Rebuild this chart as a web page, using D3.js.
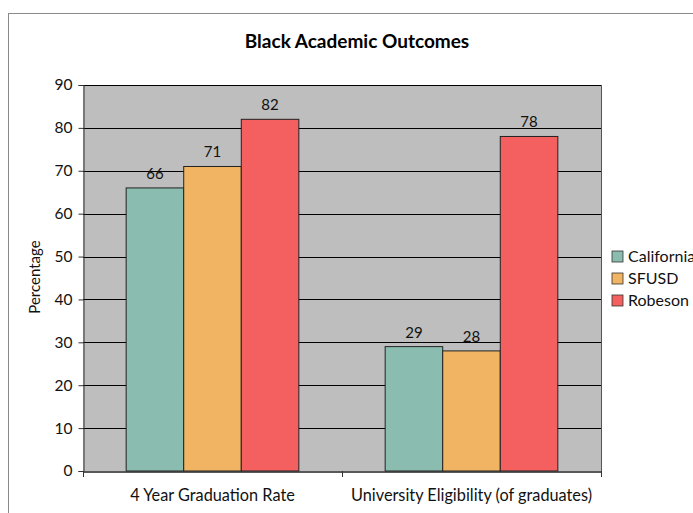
<!DOCTYPE html>
<html>
<head>
<meta charset="utf-8">
<script src="https://cdn.jsdelivr.net/npm/d3@7"></script>
<style>
  html, body { margin: 0; padding: 0; background: #fff; }
  svg { display: block; font-family: Lato, "Open Sans", sans-serif; }
</style>
</head>
<body>
<svg id="chart" width="693" height="513"></svg>
<script>
// Chart data
const categories = ["4 Year Graduation Rate", "University Eligibility (of graduates)"];
const seriesNames = ["California", "SFUSD", "Robeson"];
const california = [66, 29];
const sfusd = [71, 28];
const robeson = [82, 78];
const yTicks = [0, 10, 20, 30, 40, 50, 60, 70, 80, 90];
const seriesColors = ["#8abcb0", "#f0b462", "#f46060"];

const seriesValues = [california, sfusd, robeson];
const FONT = "Lato, 'Open Sans', sans-serif";

const svg = d3.select("#chart");

// outer frame
svg.append("rect")
  .attr("x", 8.5).attr("y", 13.5)
  .attr("width", 720).attr("height", 520)
  .attr("fill", "none").attr("stroke", "#8a8a8a").attr("stroke-width", 1);

const plot = { left: 83, right: 601, top: 85, bottom: 471 };

const x0 = d3.scaleBand().domain(categories)
  .range([plot.left, plot.right]).paddingInner(0).paddingOuter(0);
const x1 = d3.scaleBand().domain(seriesNames)
  .range([0, x0.bandwidth()]).paddingInner(0).paddingOuter(0.75);
const y = d3.scaleLinear().domain([0, 90]).range([plot.bottom, plot.top]);

// plot background
svg.append("rect")
  .attr("x", plot.left).attr("y", plot.top)
  .attr("width", plot.right - plot.left).attr("height", plot.bottom - plot.top)
  .attr("fill", "#bebebe");

// horizontal gridlines
svg.append("g").selectAll("line").data(yTicks.filter(d => d > 0)).join("line")
  .attr("x1", plot.left).attr("x2", plot.right)
  .attr("y1", d => Math.round(y(d)) + 0.5).attr("y2", d => Math.round(y(d)) + 0.5)
  .attr("stroke", "#000").attr("stroke-width", 1);

// right edge of plot area
svg.append("line")
  .attr("x1", plot.right + 0.5).attr("x2", plot.right + 0.5)
  .attr("y1", plot.top).attr("y2", plot.bottom)
  .attr("stroke", "#555").attr("stroke-width", 1);

// bars
const groups = svg.append("g").selectAll("g").data(categories).join("g")
  .attr("transform", d => `translate(${x0(d)},0)`);

const rows = (c, ci) => seriesNames.map((s, si) => ({ s, si, v: seriesValues[si][ci] }));

groups.selectAll("rect").data(rows).join("rect")
  .attr("x", d => x1(d.s))
  .attr("y", d => y(d.v))
  .attr("width", x1.bandwidth())
  .attr("height", d => y(0) - y(d.v))
  .attr("fill", d => seriesColors[d.si])
  .attr("stroke", "#222").attr("stroke-width", 1);

// value labels
groups.selectAll("text.val").data(rows).join("text")
  .attr("class", "val")
  .attr("x", d => x1(d.s) + x1.bandwidth() / 2)
  .attr("y", d => y(d.v) - 9)
  .attr("text-anchor", "middle")
  .attr("font-size", 15)
  .attr("fill", "#111")
  .text(d => d.v);

// y axis
const yAxis = svg.append("g")
  .attr("transform", `translate(${plot.left + 0.5},0)`)
  .call(d3.axisLeft(y).tickValues(yTicks).tickSize(5).tickPadding(6).tickFormat(d3.format("d")));
yAxis.select(".domain").attr("stroke", "#333");
yAxis.selectAll(".tick line").attr("stroke", "#333");
yAxis.selectAll("text").attr("font-size", 15.5).attr("fill", "#111").attr("font-family", FONT);

// x axis
const xAxis = svg.append("g")
  .attr("transform", `translate(0,${plot.bottom + 0.5})`)
  .call(d3.axisBottom(x0).tickSize(0).tickPadding(18));
xAxis.select(".domain").attr("stroke", "#222").attr("stroke-width", 1.5);
xAxis.selectAll("text").attr("font-size", 16.3).attr("fill", "#111").attr("font-family", FONT);

// category separator ticks
const sepPositions = [plot.left, x0(categories[1]), plot.right];
svg.append("g").selectAll("line").data(sepPositions).join("line")
  .attr("x1", d => d + 0.5).attr("x2", d => d + 0.5)
  .attr("y1", plot.bottom).attr("y2", plot.bottom + 6)
  .attr("stroke", "#333");

// title
svg.append("text")
  .attr("x", 357).attr("y", 48)
  .attr("text-anchor", "middle")
  .attr("font-size", 19).attr("font-weight", "bold")
  .attr("fill", "#000")
  .text("Black Academic Outcomes");

// y axis title
svg.append("text")
  .attr("transform", `translate(40,${(plot.top + plot.bottom) / 2 - 1}) rotate(-90)`)
  .attr("text-anchor", "middle")
  .attr("font-size", 15).attr("fill", "#111")
  .text("Percentage");

// legend
const legend = svg.append("g").selectAll("g").data(seriesNames).join("g")
  .attr("transform", (d, i) => `translate(612,${251 + i * 22})`);
legend.append("rect")
  .attr("width", 11).attr("height", 11)
  .attr("fill", (d, i) => seriesColors[i])
  .attr("stroke", "#333").attr("stroke-width", 0.8);
legend.append("text")
  .attr("x", 16).attr("y", 11)
  .attr("font-size", 16).attr("fill", "#111")
  .text(d => d);
</script>
</body>
</html>
